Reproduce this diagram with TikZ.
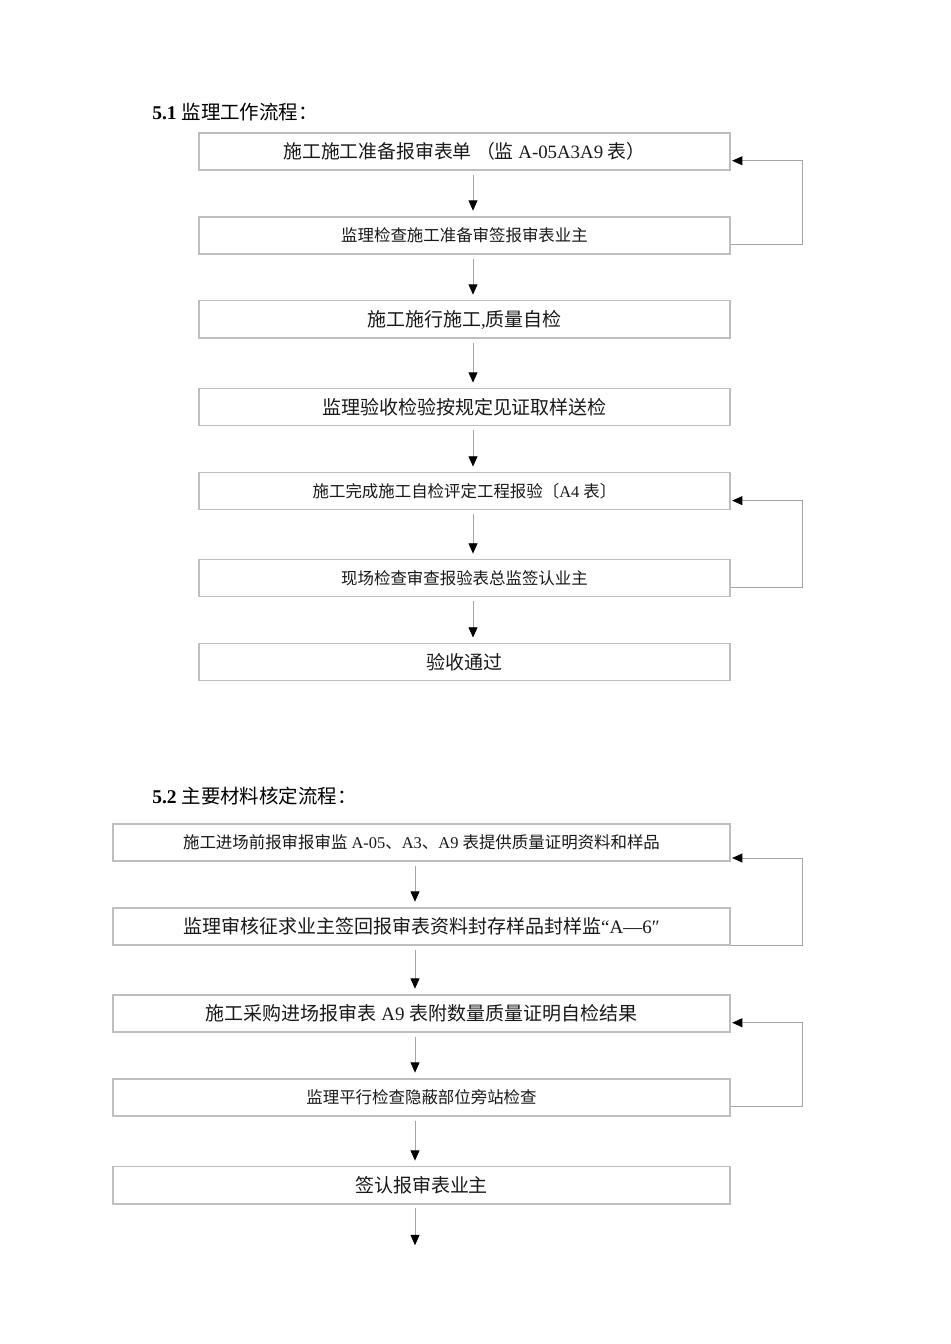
\documentclass[tikz,border=0pt]{standalone}
\usepackage{fontspec}
\setmainfont{Liberation Serif}
\newfontfamily\cjk{Noto Sans CJK SC}
\usetikzlibrary{arrows.meta, positioning, calc}
\definecolor{fcline}{RGB}{190,190,190}
\definecolor{fcarrow}{RGB}{165,165,165}
\definecolor{fctext}{RGB}{25,25,25}
\newcommand{\zh}[1]{{\cjk #1}}
\newcommand{\bigsz}{\fontsize{11.9pt}{14pt}\selectfont}
\newcommand{\midsz}{\fontsize{11.8pt}{14pt}\selectfont}
\newcommand{\smallsz}{\fontsize{10.3pt}{12.5pt}\selectfont}
\newcommand{\headsz}{\fontsize{12.2pt}{14.5pt}\selectfont}
\tikzset{
  stepbox/.style  = {rectangle, draw=fcline, line width=0.7pt, fill=white, text=fctext,
                     minimum width=332.6pt, minimum height=23.2pt, inner sep=0pt, font=\bigsz},
  widebox/.style  = {stepbox, minimum width=386.5pt},
  smalltxt/.style = {font=\smallsz},
  midtxt/.style   = {font=\midsz},
  heading/.style  = {anchor=west, text=black, font=\headsz, inner sep=0pt},
  flow/.style     = {-{Triangle[length=6.4pt,width=5.6pt,color=black]}, line width=0.5pt,
                     draw=fcarrow, shorten <=2.5pt, shorten >=3.6pt},
  back/.style     = {flow, shorten <=0pt, shorten >=1pt},
}

\begin{document}
\begin{tikzpicture}[x=0.6264pt, y=-0.6264pt]
\fill[white] (0,0) rectangle (950,1344);
\useasboundingbox (0,0) rectangle (950,1344);

% ---------- 5.1 work flow ----------
\node[heading] (h1) at (152,112) {\textbf{5.1} \zh{监理工作流程：}};
\node[stepbox, midtxt] (b1) at (464.5,151.5) {\zh{施工施工准备报审表单 （监} A-05A3A9 \zh{表）}};
\node[stepbox, smalltxt, below=28.7pt of b1] (b2) {\zh{监理检查施工准备审签报审表业主}};
\node[stepbox, below=28.7pt of b2] (b3) {\zh{施工施行施工},\zh{质量自检}};
\node[stepbox, below=31.2pt of b3] (b4) {\zh{监理验收检验按规定见证取样送检}};
\node[stepbox, smalltxt, below=28.7pt of b4] (b5) {\zh{施工完成施工自检评定工程报验〔}A4 \zh{表〕}};
\node[stepbox, smalltxt, below=30.6pt of b5] (b6) {\zh{现场检查审查报验表总监签认业主}};
\node[stepbox, below=28.7pt of b6] (b7) {\zh{验收通过}};
\coordinate (axA) at (473,0);

% ---------- 5.2 material flow ----------
\node[heading] (h2) at (152,796) {\textbf{5.2} \zh{主要材料核定流程：}};
\node[widebox, smalltxt] (c1) at (421.5,842.5) {\zh{施工进场前报审报审监} A-05\zh{、}A3\zh{、}A9 \zh{表提供质量证明资料和样品}};
\node[widebox, below=28.7pt of c1] (c2) {\zh{监理审核征求业主签回报审表资料封存样品封样监}“A—6″};
\node[widebox, below=30.6pt of c2] (c3) {\zh{施工采购进场报审表} A9 \zh{表附数量质量证明自检结果}};
\node[widebox, smalltxt, below=28.7pt of c3] (c4) {\zh{监理平行检查隐蔽部位旁站检查}};
\node[widebox, below=31.2pt of c4] (c5) {\zh{签认报审表业主}};
\coordinate[below=29.1pt of c5] (c6);
\coordinate (axB) at (415,0);

% ---------- Edges ----------
\foreach \a/\b in {b1/b2, b2/b3, b3/b4, b4/b5, b5/b6, b6/b7}
  \draw[flow] (\a.south -| axA) -- (\b.north -| axA);
\foreach \a/\b in {c1/c2, c2/c3, c3/c4, c4/c5}
  \draw[flow] (\a.south -| axB) -- (\b.north -| axB);
\draw[flow] (c5.south -| axB) -- (c6 -| axB);

% ---------- Feedback loops ----------
\draw[back] ([yshift=-5.8pt]b2.east) -- ++(72,0) |- ([yshift=-5.8pt]b1.east);
\draw[back] ([yshift=-5.8pt]b6.east) -- ++(72,0) |- ([yshift=-5.8pt]b5.east);
\draw[back] (c2.south east) -- ++(72,0) |- ([yshift=-9.7pt]c1.east);
\draw[back] ([yshift=-5.8pt]c4.east) -- ++(72,0) |- ([yshift=-5.8pt]c3.east);

\end{tikzpicture}
\end{document}
